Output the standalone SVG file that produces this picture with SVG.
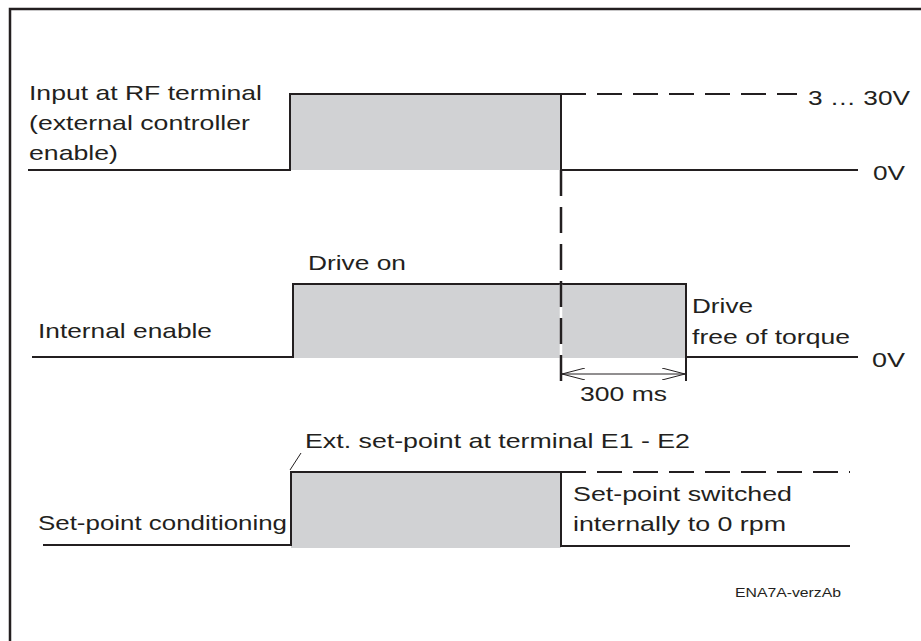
<svg xmlns="http://www.w3.org/2000/svg" width="921" height="641" viewBox="0 0 921 641">
<defs>
<style>
.t{font-family:"Liberation Sans",Arial,sans-serif;font-size:21px;fill:#231f20}
.s{font-family:"Liberation Sans",Arial,sans-serif;font-size:13px;fill:#231f20}
.sig{stroke:#231f20;stroke-width:2;fill:none}
.fill{fill:#d1d2d4;stroke:none}
.dash{stroke:#231f20;stroke-width:2;fill:none;stroke-dasharray:25 11}
.dim{stroke:#231f20;stroke-width:1;fill:none}
</style>
<marker id="open" viewBox="0 0 24 12" refX="23" refY="6" markerWidth="24" markerHeight="12" markerUnits="userSpaceOnUse" orient="auto-start-reverse">
<path d="M0 0 L23 6 L0 12" fill="none" stroke="#231f20" stroke-width="1"/>
</marker>
</defs>
<rect width="921" height="641" fill="#ffffff"/>
<g id="frame"><path d="M10 641 V9 H921" fill="none" stroke="#231f20" stroke-width="2.5"/></g>

<g id="signal-rf">
<rect class="fill" x="290" y="94" width="271" height="76"/>
<path class="sig" d="M28 170 H290 V94 H561 V170 H858"/>
<line class="dash" x1="561" y1="94" x2="797" y2="94"/>
<text class="t" x="29" y="100" textLength="233" lengthAdjust="spacingAndGlyphs">Input at RF terminal</text>
<text class="t" x="29" y="130" textLength="221" lengthAdjust="spacingAndGlyphs">(external controller</text>
<text class="t" x="29" y="160" textLength="89" lengthAdjust="spacingAndGlyphs">enable)</text>
<text class="t" x="808" y="105" textLength="102" lengthAdjust="spacingAndGlyphs">3 … 30V</text>
<text class="t" x="873" y="180" textLength="32" lengthAdjust="spacingAndGlyphs">0V</text>
</g>

<g id="signal-internal">
<rect class="fill" x="293" y="284" width="393" height="74"/>
<path class="sig" d="M32 357 H293 V284 H686 V357 H858"/>
<text class="t" x="308" y="270" textLength="98" lengthAdjust="spacingAndGlyphs">Drive on</text>
<text class="t" x="38" y="338" textLength="174" lengthAdjust="spacingAndGlyphs">Internal enable</text>
<text class="t" x="692" y="313" textLength="61" lengthAdjust="spacingAndGlyphs">Drive</text>
<text class="t" x="692" y="344" textLength="158" lengthAdjust="spacingAndGlyphs">free of torque</text>
<text class="t" x="872" y="367" textLength="33" lengthAdjust="spacingAndGlyphs">0V</text>
</g>

<g id="signal-setpoint">
<rect class="fill" x="291" y="472" width="270" height="76"/>
<path class="sig" d="M43 545 H291 V472 H561 V546 H850"/>
<line class="dash" x1="561" y1="472" x2="850" y2="472"/>
<line class="dim" x1="290" y1="470" x2="301" y2="453"/>
<text class="t" x="305" y="448" textLength="385" lengthAdjust="spacingAndGlyphs">Ext. set-point at terminal E1 - E2</text>
<text class="t" x="38" y="530" textLength="249" lengthAdjust="spacingAndGlyphs">Set-point conditioning</text>
<text class="t" x="573" y="501" textLength="219" lengthAdjust="spacingAndGlyphs">Set-point switched</text>
<text class="t" x="573" y="531" textLength="213" lengthAdjust="spacingAndGlyphs">internally to 0 rpm</text>
</g>

<g id="connectors">
<line x1="561" y1="284" x2="561" y2="358" stroke="#ffffff" stroke-width="2.5"/>
<line x1="561" y1="170" x2="561" y2="381" stroke="#231f20" stroke-width="2.5" stroke-dasharray="26 11"/>
<line x1="686" y1="357" x2="686" y2="381" stroke="#231f20" stroke-width="2"/>
<line class="dim" x1="562" y1="374" x2="685" y2="374" marker-start="url(#open)" marker-end="url(#open)"/>
<text class="t" x="580" y="401" textLength="87" lengthAdjust="spacingAndGlyphs">300 ms</text>
</g>

<text class="s" x="735" y="597" textLength="106" lengthAdjust="spacingAndGlyphs">ENA7A-verzAb</text>
</svg>
